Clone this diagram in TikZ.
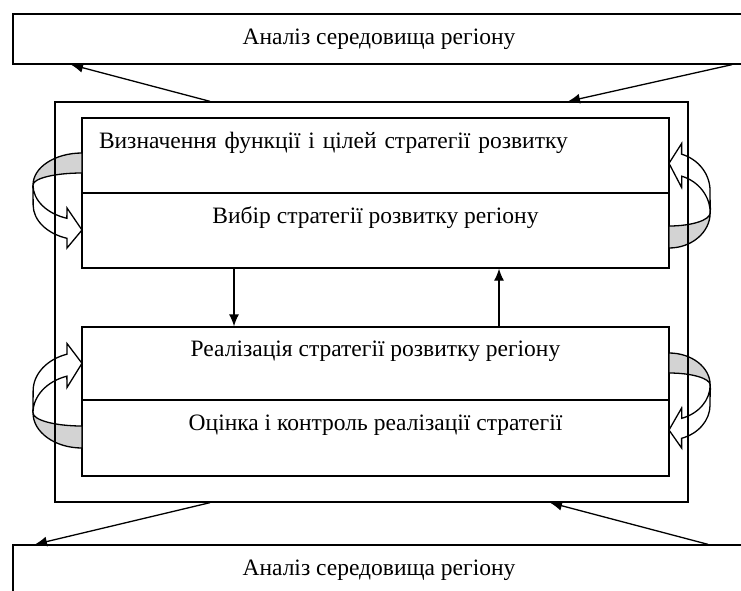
\documentclass[tikz,border=0pt]{standalone}
\usepackage{fontspec}
\setmainfont{Liberation Serif}
\usetikzlibrary{arrows.meta}
\definecolor{shade}{RGB}{211,211,211}
\tikzstyle{envbox} = [rectangle, draw=black, minimum width=732pt, minimum height=50pt]
\tikzstyle{framebox} = [rectangle, draw=black, minimum width=633pt, minimum height=400pt]
\tikzstyle{part} = [rectangle, draw=black, minimum width=587pt, inner ysep=0pt, text height=16pt, text depth=31pt]
\tikzstyle{band} = [line width=1.3pt, draw=black, fill=shade]
\tikzstyle{arrow} = [-{Latex[length=12pt,width=10pt]}]
% curved band arrow at the side of a box
\newcommand{\swirl}[2]{%
  \begin{scope}[shift={#1}, #2]
    \filldraw [band] (0,0) arc[start angle=270, end angle=180, x radius=49, y radius=32]
      arc[start angle=180, end angle=270, x radius=49, y radius=12] -- cycle;
    \filldraw [band, fill=white] (-49,32) arc[start angle=180, end angle=108, x radius=49, y radius=35]
      -- (-15,55) -- (0,77) -- (-15,95) -- (-15,85.3)
      arc[start angle=108, end angle=180, x radius=49, y radius=35] -- cycle;
  \end{scope}}

\begin{document}
\begin{tikzpicture}[x=1pt, y=-1pt, line width=1.3pt, font=\fontsize{23.5}{28}\selectfont]
  \useasboundingbox (0,0) rectangle (741,590);
  \node (envtop) [envbox] at (379,39) {Аналіз середовища регіону};
  \node (envbot) [envbox] at (379,570) {Аналіз середовища регіону};
  \node (sec1) [part, minimum height=75pt, text width=553pt, align=left] at (375.5,155.5) {Визначення функції і цілей стратегії розвитку};
  \node (sec2) [part, minimum height=75pt] at (375.5,230.5) {Вибір стратегії розвитку регіону};
  \node (sec3) [part, minimum height=73pt] at (375.5,363.5) {Реалізація стратегії розвитку регіону};
  \node (sec4) [part, minimum height=76pt] at (375.5,438) {Оцінка і контроль реалізації стратегії};

  \swirl{(82,153)}{}
  \swirl{(669,248)}{xscale=-0.84, yscale=-1.1}
  \swirl{(82,448)}{yscale=-1.1}
  \swirl{(669,353)}{xscale=-0.84}

  \node (frame) [framebox] at (371.5,302) {};

  \draw [arrow] ([xshift=-141.5pt]sec2.south) -- ([xshift=-141.5pt]sec3.north);
  \draw [arrow] ([xshift=123.5pt]sec3.north) -- ([xshift=123.5pt]sec2.south);
  \draw [arrow] ([xshift=-161.5pt]frame.north) -- ([xshift=-308pt]envtop.south);
  \draw [arrow] ([xshift=353pt]envtop.south) -- ([xshift=196.5pt]frame.north);
  \draw [arrow] ([xshift=-161.5pt]frame.south) -- ([xshift=-344pt]envbot.north);
  \draw [arrow] ([xshift=329pt]envbot.north) -- ([xshift=178.5pt]frame.south);
\end{tikzpicture}
\end{document}
